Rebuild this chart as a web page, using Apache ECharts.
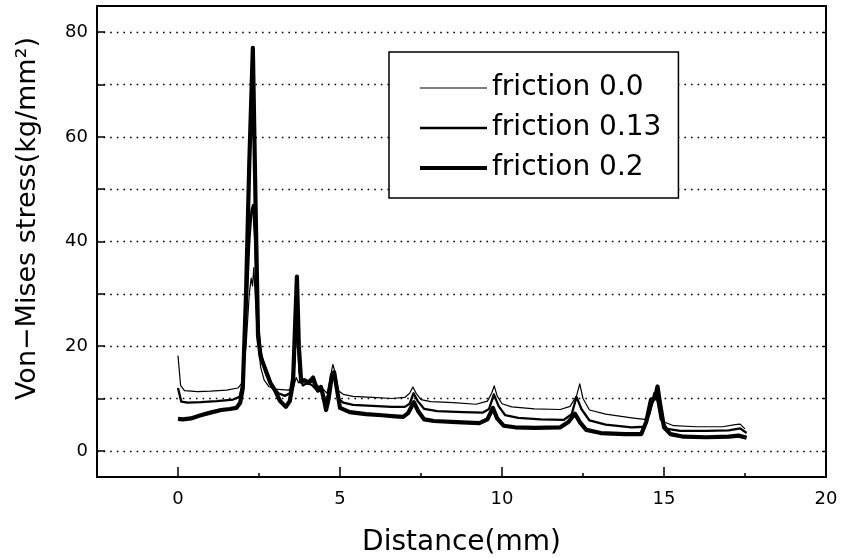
<!DOCTYPE html>
<html><head><meta charset="utf-8">
<script src="https://cdn.jsdelivr.net/npm/echarts@6/dist/echarts.min.js"></script>
<style>html,body{margin:0;padding:0;background:#fff}#c{width:843px;height:558px}</style>
</head><body><div id="c"></div>
<script>
// ---- data ----
const seriesNames = ['friction 0.0', 'friction 0.13', 'friction 0.2'];

const xFric00 = [0, 0.08, 0.2, 0.6, 1.0, 1.5, 1.85, 1.98, 2.1, 2.2, 2.26, 2.3, 2.34, 2.38, 2.45, 2.55, 2.66, 2.8, 3.0, 3.2, 3.4, 3.55, 3.65, 3.72, 3.8, 4.0, 4.15, 4.3, 4.45, 4.6, 4.7, 4.78, 4.85, 4.95, 5.1, 5.4, 6.0, 6.6, 7.0, 7.15, 7.25, 7.35, 7.5, 7.8, 8.5, 9.2, 9.55, 9.68, 9.76, 9.85, 10.0, 10.3, 11.0, 11.8, 12.1, 12.3, 12.4, 12.5, 12.7, 13.2, 14.0, 14.4, 14.55, 14.65, 14.75, 14.85, 15.0, 15.3, 16.0, 16.8, 17.2, 17.35, 17.5];
const yFric00 = [18.2, 12.5, 11.5, 11.3, 11.4, 11.6, 12, 13, 20, 30, 33, 31.5, 35, 30, 22, 16, 13.5, 12.3, 11.8, 11.7, 11.6, 12, 14, 13, 13.5, 13.5, 13, 12.5, 12, 11, 14, 16.5, 15, 11.5, 10.8, 10.4, 10.2, 10, 10.2, 11, 12.2, 11, 9.8, 9.4, 9.2, 8.9, 9.5, 11, 12.4, 10.5, 9, 8.4, 8, 7.9, 8.5, 10.5, 12.8, 10, 7.8, 7, 6.3, 6, 7, 9, 10.3, 9, 5.5, 4.8, 4.6, 4.6, 5, 5.1, 4.2];

const xFric013 = [0, 0.1, 0.3, 0.7, 1.2, 1.7, 1.9, 2.0, 2.1, 2.2, 2.27, 2.32, 2.38, 2.45, 2.55, 2.7, 2.9, 3.1, 3.3, 3.45, 3.58, 3.67, 3.75, 3.85, 4.0, 4.15, 4.3, 4.42, 4.55, 4.65, 4.78, 4.85, 4.95, 5.1, 5.4, 6.0, 6.6, 7.0, 7.15, 7.27, 7.4, 7.6, 8.0, 8.8, 9.4, 9.6, 9.75, 9.9, 10.1, 10.5, 11.2, 11.9, 12.15, 12.3, 12.45, 12.7, 13.2, 14.0, 14.4, 14.55, 14.7, 14.8, 14.9, 15.1, 15.5, 16.3, 17.0, 17.35, 17.55];
const yFric013 = [12, 9.4, 9.2, 9.3, 9.5, 9.8, 10.3, 13, 25, 40, 46, 47, 40, 26, 19, 15, 12.5, 11, 10.5, 11, 16, 26, 15, 12.5, 13, 12.5, 11.5, 11.8, 9.5, 11, 15, 13.5, 10, 9.2, 8.8, 8.6, 8.4, 8.4, 9, 11, 9.5, 8, 7.6, 7.4, 7.3, 8, 10.8, 8.5, 6.8, 6.3, 6.0, 5.9, 7, 10.3, 8, 5.8, 5.0, 4.5, 4.6, 7, 11, 9.5, 6, 4.2, 3.8, 3.8, 3.9, 4.3, 3.4];

const xFric02 = [0, 0.15, 0.4, 0.7, 1.0, 1.33, 1.6, 1.8, 1.92, 2.0, 2.1, 2.2, 2.31, 2.4, 2.47, 2.55, 2.7, 2.85, 3.0, 3.15, 3.33, 3.45, 3.55, 3.62, 3.67, 3.73, 3.8, 3.9, 4.0, 4.1, 4.17, 4.25, 4.32, 4.41, 4.5, 4.57, 4.65, 4.75, 4.82, 4.9, 5.0, 5.3, 5.8, 6.3, 6.7, 6.95, 7.1, 7.28, 7.42, 7.6, 7.9, 8.6, 9.3, 9.55, 9.72, 9.85, 10.05, 10.4, 11.0, 11.8, 12.05, 12.25, 12.4, 12.6, 13.05, 13.8, 14.3, 14.45, 14.6, 14.72, 14.8, 14.88, 15.0, 15.2, 15.6, 16.3, 17.0, 17.3, 17.55];
const yFric02 = [6.1, 6.0, 6.2, 6.8, 7.3, 7.8, 8.0, 8.2, 9.2, 12, 30, 55, 77, 45, 22, 18, 15.5, 13, 11.5, 9.5, 8.4, 9.5, 13, 25, 33.3, 20, 13.2, 13.5, 13, 13.5, 14, 12.5, 11.5, 12.2, 10, 7.8, 10, 14.5, 15, 12, 8.2, 7.4, 7.0, 6.8, 6.6, 6.5, 7.2, 9.3, 7.5, 6.0, 5.7, 5.5, 5.3, 6.0, 8.2, 6.2, 4.8, 4.5, 4.4, 4.5, 5.5, 7.1, 5.5, 4.0, 3.4, 3.2, 3.2, 5.5, 9.8, 10, 12.3, 9, 4.5, 3.2, 2.7, 2.6, 2.7, 2.9, 2.5];

const xLabelValues = [0, 5, 10, 15, 20];
const yTickValues = [0, 10, 20, 30, 40, 50, 60, 70, 80];
const yLabelValues = [0, 20, 40, 60, 80];
const xTitle = 'Distance(mm)';
const yTitle = 'Von\u2212Mises stress(kg/mm\u00B2)';

// ---- chart ----
function pairs(xs, ys) { return xs.map((x, i) => [x, ys[i]]); }
const FONT = 'DejaVu Sans';
const BLACK = '#000';
const chart = echarts.init(document.getElementById('c'), null, { renderer: 'canvas' });

const lineWidths = [1.2, 2.3, 4.2];
const legendIcons = ['path://M0,0H67V1.2H0Z', 'path://M0,0H67V2.3H0Z', 'path://M0,0H67V4.2H0Z'];
const dataSets = [pairs(xFric00, yFric00), pairs(xFric013, yFric013), pairs(xFric02, yFric02)];

const series = seriesNames.map((name, i) => ({
  name: name,
  type: 'line',
  data: dataSets[i],
  symbol: 'none',
  showSymbol: false,
  xAxisIndex: 0,
  yAxisIndex: 0,
  lineStyle: { color: BLACK, width: lineWidths[i], join: 'round' },
  itemStyle: { color: BLACK },
  z: 3 + i,
  animation: false
}));
series[0].markLine = {
  silent: true,
  symbol: ['none', 'none'],
  label: { show: false },
  lineStyle: { type: [1.6, 5], color: BLACK, width: 1.3 },
  data: yTickValues.map(v => ({ yAxis: v })),
  animation: false,
  z: 1
};

const option = {
  animation: false,
  backgroundColor: '#fff',
  grid: { left: 97, right: 17, top: 6, bottom: 81, show: true, borderColor: BLACK, borderWidth: 2, containLabel: false, outerBoundsMode: 'none' },
  legend: {
    orient: 'vertical',
    left: 389, top: 52,
    padding: [22, 17, 16, 31],
    itemGap: 12,
    itemWidth: 67,
    itemHeight: 14,
    symbolKeepAspect: true,
    borderColor: BLACK,
    borderWidth: 1.5,
    backgroundColor: '#fff',
    itemStyle: { color: BLACK, borderWidth: 0 },
    lineStyle: { width: 0 },
    textStyle: { fontFamily: FONT, fontSize: 28, color: BLACK },
    data: seriesNames.map((n, i) => ({ name: n, icon: legendIcons[i] }))
  },
  xAxis: [
    {
      type: 'value', min: -2.5, max: 20, interval: 2.5, position: 'bottom',
      axisLine: { show: true, onZero: false, lineStyle: { color: BLACK, width: 2 } },
      axisTick: { show: true, inside: true, length: 4, lineStyle: { color: BLACK, width: 1.5 } },
      axisLabel: { color: BLACK, fontFamily: FONT, fontSize: 18, margin: 13, customValues: xLabelValues },
      splitLine: { show: false },
      name: xTitle, nameLocation: 'middle', nameGap: 52,
      nameTextStyle: { fontFamily: FONT, fontSize: 28, color: BLACK }
    },
    {
      type: 'value', min: -2.5, max: 20, position: 'top', offset: -471,
      axisLine: { show: false },
      axisTick: { show: true, inside: false, length: 10, customValues: xLabelValues, lineStyle: { color: BLACK, width: 1.5 } },
      axisLabel: { show: false },
      splitLine: { show: false }
    }
  ],
  yAxis: [
    {
      type: 'value', min: -5, max: 85, position: 'left',
      axisLine: { show: true, onZero: false, lineStyle: { color: BLACK, width: 2 } },
      axisTick: { show: true, inside: true, length: 8, customValues: yTickValues, lineStyle: { color: BLACK, width: 1.5 } },
      axisLabel: { color: BLACK, fontFamily: FONT, fontSize: 18, margin: 9, customValues: yLabelValues },
      splitLine: { show: false },
      name: yTitle, nameLocation: 'middle', nameGap: 56,
      nameTextStyle: { fontFamily: FONT, fontSize: 27, color: BLACK, padding: [0, 0, 0, 46] }
    },
    {
      type: 'value', min: -5, max: 85, position: 'right',
      axisLine: { show: true, onZero: false, lineStyle: { color: BLACK, width: 2 } },
      axisTick: { show: true, inside: true, length: 4, customValues: yTickValues, lineStyle: { color: BLACK, width: 1.2 } },
      axisLabel: { show: false },
      splitLine: { show: false }
    }
  ],
  series: series
};
chart.setOption(option);
</script>
</body></html>
